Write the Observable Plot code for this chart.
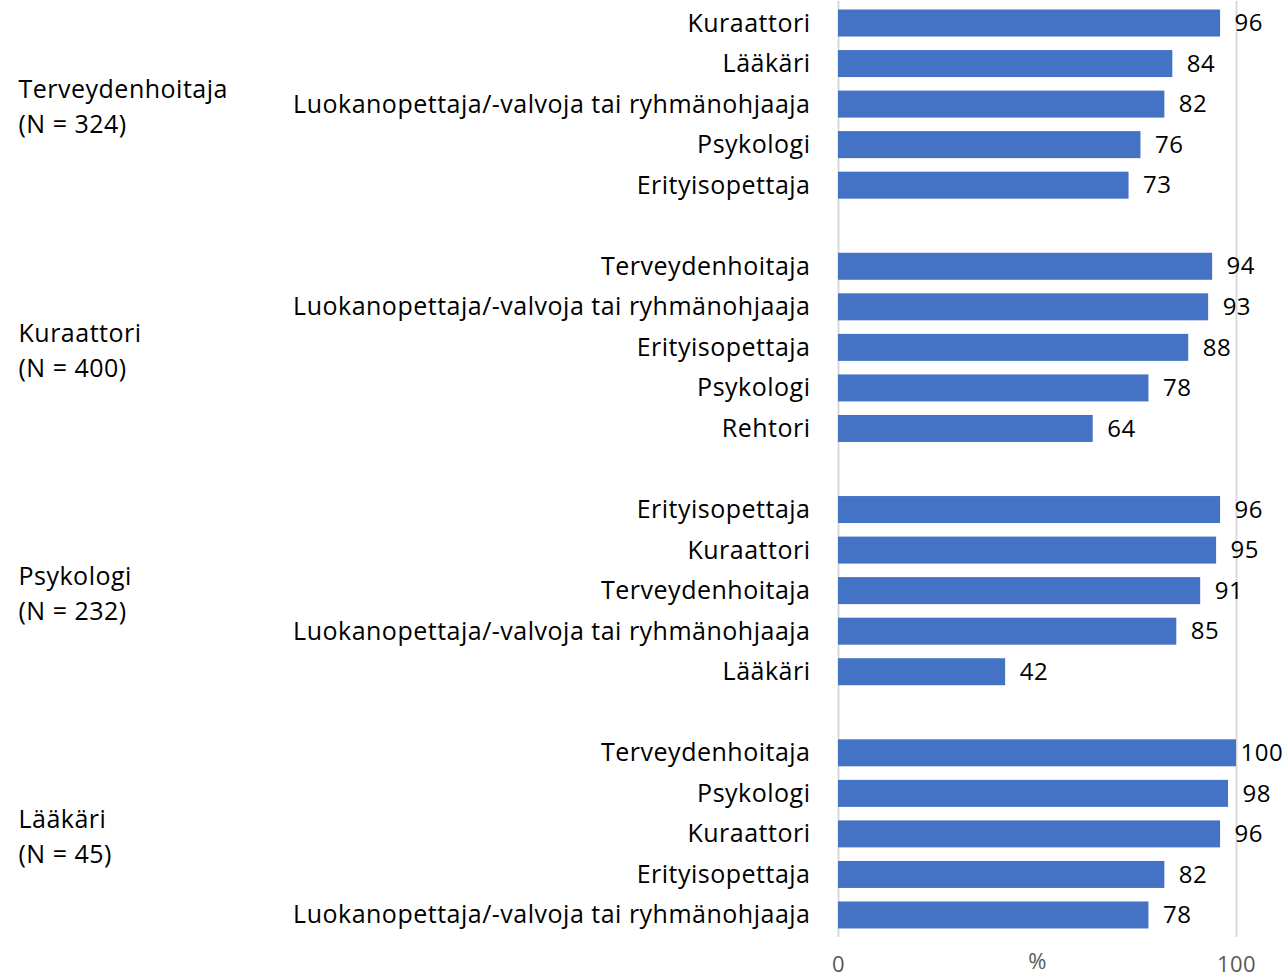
<!DOCTYPE html>
<html><head><meta charset="utf-8">
<script src="https://cdn.jsdelivr.net/npm/d3@7"></script>
<script src="https://cdn.jsdelivr.net/npm/@observablehq/plot@0.6"></script>
<style>body{margin:0;background:#fff}</style>
</head><body><div id="chart"></div>
<script>
const groups = ["Terveydenhoitaja", "Kuraattori", "Psykologi", "Lääkäri"];
const groupN = [324, 400, 232, 45];
const cats1 = ["Kuraattori", "Lääkäri", "Luokanopettaja/-valvoja tai ryhmänohjaaja", "Psykologi", "Erityisopettaja"];
const vals1 = [96, 84, 82, 76, 73];
const cats2 = ["Terveydenhoitaja", "Luokanopettaja/-valvoja tai ryhmänohjaaja", "Erityisopettaja", "Psykologi", "Rehtori"];
const vals2 = [94, 93, 88, 78, 64];
const cats3 = ["Erityisopettaja", "Kuraattori", "Terveydenhoitaja", "Luokanopettaja/-valvoja tai ryhmänohjaaja", "Lääkäri"];
const vals3 = [96, 95, 91, 85, 42];
const cats4 = ["Terveydenhoitaja", "Psykologi", "Kuraattori", "Erityisopettaja", "Luokanopettaja/-valvoja tai ryhmänohjaaja"];
const vals4 = [100, 98, 96, 82, 78];
const xTicks = [0, 100];
const xLabel = "%";

const allCats = [cats1, cats2, cats3, cats4];
const allVals = [vals1, vals2, vals3, vals4];
const rows = [];
const domain = [];
const labelOf = new Map();
groups.forEach((g, gi) => {
  if (gi > 0) { const k = "gap" + gi; domain.push(k); labelOf.set(k, ""); }
  allCats[gi].forEach((c, ci) => {
    const key = g + "|" + c;
    domain.push(key);
    labelOf.set(key, c);
    rows.push({key, group: g, cat: c, value: allVals[gi][ci]});
  });
});
const groupLabels = groups.map((g, gi) => ({key: g + "|" + allCats[gi][2], text: g + "\n(N = " + groupN[gi] + ")"}));

const font = "'Open Sans', Lato, sans-serif";
const W = 1283, H = 977;
const chart = Plot.plot({
  width: W, height: H,
  marginLeft: 838, marginRight: 47, marginTop: 1, marginBottom: 40,
  style: {fontFamily: font, fontSize: "25px", color: "#000", background: "#fff", letterSpacing: "0.5px"},
  x: {domain: [0, 100], axis: null},
  y: {domain, paddingInner: 0.334, paddingOuter: 0.21, round: false, axis: null},
  marks: [
    Plot.ruleX(xTicks, {stroke: "#d9d9d9", strokeWidth: 2}),
    Plot.barX(rows, {x: "value", y: "key", fill: "#4472C4"}),
    Plot.text(rows.filter(d => d.value < 100), {x: "value", y: "key", text: d => String(d.value), textAnchor: "start", dx: 14, fontSize: 24, fill: "#000"}),
    Plot.text(rows.filter(d => d.value >= 100), {x: "value", y: "key", text: d => String(d.value), textAnchor: "start", dx: 4, fontSize: 24, fill: "#000"}),
    Plot.axisY({domain, tickSize: 0, tickPadding: 28, tickFormat: k => labelOf.get(k), fontSize: 25, fill: "#000", label: null}),
    Plot.text(groupLabels, {y: "key", text: "text", frameAnchor: "left", dx: -820, dy: 0, textAnchor: "start", fontSize: 25, lineHeight: 1.4, fill: "#000"}),
    Plot.axisX(xTicks, {tickSize: 0, tickPadding: 19, fontSize: 22, fill: "#595959", label: xLabel, labelAnchor: "center", labelArrow: "none", labelOffset: 31})
  ]
});
document.getElementById("chart").appendChild(chart);
</script></body></html>
